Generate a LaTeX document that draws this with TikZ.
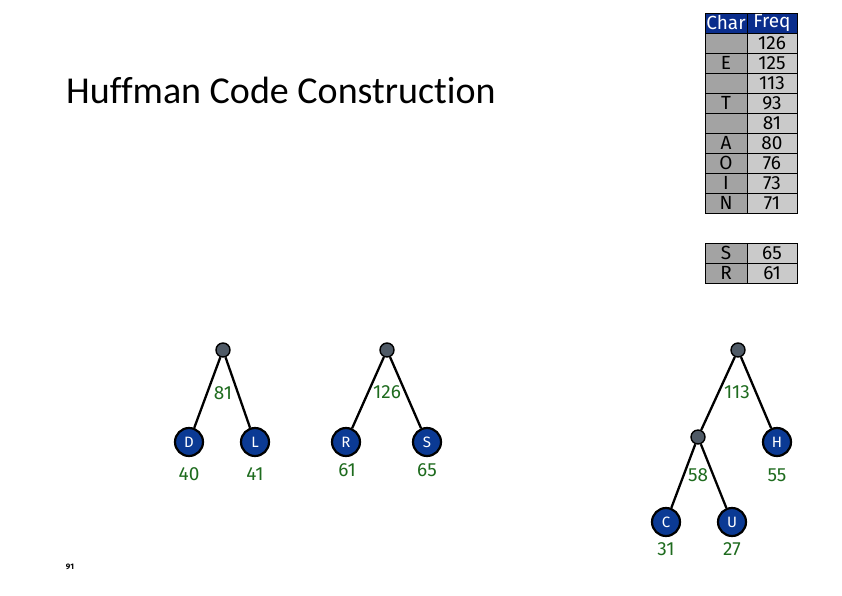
\documentclass[tikz,border=0pt]{standalone}
\usepackage{fontspec}
\setmainfont{Fira Sans}
\newfontfamily\titlefont[Ligatures=NoCommon]{Carlito}
\usepackage{xcolor}
\usetikzlibrary{positioning}

\definecolor{hdrblue}{HTML}{0A2D8C}
\definecolor{leafblue}{HTML}{0B3A94}
\definecolor{innergray}{HTML}{4F5A66}
\definecolor{chargray}{HTML}{A3A3A3}
\definecolor{freqgray}{HTML}{CACACA}
\definecolor{wgreen}{HTML}{1E6B1E}

\begin{document}
\begin{tikzpicture}[
    x=1pt, y=-1pt,
    cell/.style={rectangle, draw=black, line width=0.8pt, inner sep=0pt, minimum height=20pt, font=\fontsize{19}{19}\selectfont},
    charcell/.style={cell, fill=chargray, minimum width=42pt},
    freqcell/.style={cell, fill=freqgray, minimum width=50pt},
    head/.style={fill=hdrblue, text=white},
    leaf/.style={circle, draw=black, line width=2.2pt, fill=leafblue, minimum size=28pt, inner sep=0pt, text=white, font=\fontsize{15}{15}\selectfont},
    inner/.style={circle, draw=black, line width=1.4pt, fill=innergray, minimum size=14pt, inner sep=0pt},
    weight/.style={text=wgreen, font=\fontsize{19}{19}\selectfont},
    edge/.style={line width=2.3pt}
]
\useasboundingbox (0,0) rectangle (842,595);

% Title
\node[anchor=base west, inner sep=0pt, font=\titlefont\fontsize{38}{38}\selectfont] (title) at (66,103) {Huffman Code Construction};

% Frequency table
\node[charcell, head] (chead) at (726,23) {Char};
\node[freqcell, head] (fhead) at (772,23) {Freq};
\foreach \ch/\fr [count=\i] in {/126, E/125, /113, T/93, /81, A/80, O/76, I/73, N/71} {
  \node[charcell] (c\i) at (726,23+20*\i) {\ch};
  \node[freqcell] (f\i) at (772,23+20*\i) {\fr};
}
\node[charcell] (cS) at (726,253) {S};
\node[freqcell] (fS) at (772,253) {65};
\node[charcell] (cR) at (726,273) {R};
\node[freqcell] (fR) at (772,273) {61};

% Tree 81
\node[inner] (n81) at (223,350) {};
\node[leaf] (D) at (189,442) {D};
\node[leaf] (L) at (255,442) {L};
\node[weight] (w81) at (223,393) {81};
\node[weight] (w40) at (189,474) {40};
\node[weight] (w41) at (255,474) {41};
\draw[edge] (n81) -- (D);
\draw[edge] (n81) -- (L);

% Tree 126
\node[inner] (n126) at (387,350) {};
\node[leaf] (R) at (346,442) {R};
\node[leaf] (S) at (427,442) {S};
\node[weight] (w126) at (387,392) {126};
\node[weight] (w61) at (347,470) {61};
\node[weight] (w65) at (427,470) {65};
\draw[edge] (n126) -- (R);
\draw[edge] (n126) -- (S);

% Tree 113
\node[inner] (n113) at (738,350) {};
\node[inner] (n58) at (698,437) {};
\node[leaf] (H) at (777,442) {H};
\node[leaf] (C) at (666,522) {C};
\node[leaf] (U) at (732,522) {U};
\node[weight] (w113) at (737,392) {113};
\node[weight] (w58) at (698,475) {58};
\node[weight] (w55) at (777,475) {55};
\node[weight] (w31) at (666,549) {31};
\node[weight] (w27) at (732,549) {27};
\draw[edge] (n113) -- (n58);
\draw[edge] (n113) -- (H);
\draw[edge] (n58) -- (C);
\draw[edge] (n58) -- (U);

% Page number
\node[font=\fontsize{8}{8}\selectfont\bfseries] (page) at (70,567) {91};

\end{tikzpicture}
\end{document}
